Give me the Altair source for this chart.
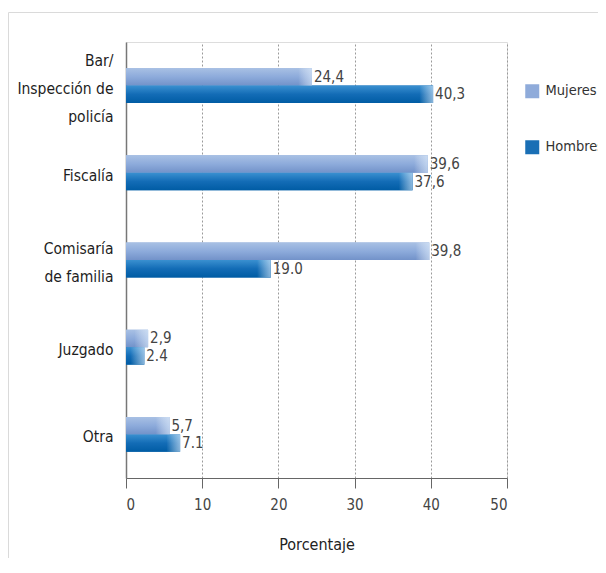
import altair as alt
import pandas as pd

# ---- data ----
categories = ["Bar/\nInspección de\npolicía", "Fiscalía", "Comisaría\nde familia", "Juzgado", "Otra"]
series = ["Mujeres", "Hombres"]
mujeres = [24.4, 39.6, 39.8, 2.9, 5.7]
hombres = [40.3, 37.6, 19.0, 2.4, 7.1]
mujeres_labels = ["24,4", "39,6", "39,8", "2,9", "5,7"]
hombres_labels = ["40,3", "37,6", "19.0", "2.4", "7.1"]
x_ticks = [0, 10, 20, 30, 40, 50]

rows = []
for c, v, l in zip(categories, mujeres, mujeres_labels):
    rows.append({"cat": c, "series": "Mujeres", "value": v, "label": l})
for c, v, l in zip(categories, hombres, hombres_labels):
    rows.append({"cat": c, "series": "Hombres", "value": v, "label": l})
df = pd.DataFrame(rows)

FONT = "DejaVu Sans Condensed, Liberation Sans, sans-serif"

x_enc = alt.X(
    "value:Q",
    scale=alt.Scale(domain=[0, 50], nice=False),
    axis=alt.Axis(
        values=x_ticks, title="Porcentaje", grid=True, gridDash=[2, 2],
        gridColor="#9a9a9a", gridWidth=1, tickSize=10, tickColor="#666",
        domainColor="#666", labelFontSize=15, labelColor="#444", labelFont=FONT,
        labelPadding=9, titleFontSize=16, titleFontWeight=500, titleColor="#222",
        titleFont=FONT, titlePadding=24,
    ),
)
nlines = "length(split(datum.value, '\\n'))"
y_enc = alt.Y(
    "cat:N", sort=categories,
    scale=alt.Scale(domain=categories, paddingInner=0.6, paddingOuter=0.3),
    axis=alt.Axis(
        title=None, labelExpr="split(datum.label, '\\n')", labelFontSize=15.5,
        labelLineHeight=28, labelPadding=13, ticks=False, domainColor="#777",
        domainWidth=1.5, labelColor="#1e1e1e", labelFont=FONT, labelFontWeight=500,
        labelLimit=200, grid=False,
        labelOffset={"condition": [
            {"test": nlines + " == 3", "value": -25},
            {"test": nlines + " == 2", "value": -11},
        ], "value": 3},
    ),
)
yoff = alt.YOffset("series:N", sort=series,
                   scale=alt.Scale(domain=series, paddingInner=0, paddingOuter=0))

base = alt.Chart(df)

frame = alt.Chart(pd.DataFrame({"a": [0]})).mark_rect(
    fillOpacity=0, stroke="#dadada", strokeWidth=1
).encode(x=alt.value(-117.5), x2=alt.value(800), y=alt.value(-29.5), y2=alt.value(900))

solid = base.mark_bar().encode(
    x=x_enc, y=y_enc, yOffset=yoff,
    color=alt.Color(
        "series:N", scale=alt.Scale(domain=series, range=["#8fabda", "#1a6fb5"]),
        legend=alt.Legend(
            title=None, orient="none", legendX=399, legendY=42,
            symbolType="square", symbolSize=196, symbolStrokeWidth=0,
            symbolOpacity=1, labelFontSize=14.5, labelColor="#333", labelFont=FONT,
            labelOffset=6, rowPadding=40,
        ),
    ),
)

grad_m = alt.Gradient(gradient="linear", x1=0, y1=0, x2=0, y2=1, stops=[
    alt.GradientStop(offset=0, color="#a8c0e4"),
    alt.GradientStop(offset=0.5, color="#8dabdb"),
    alt.GradientStop(offset=1, color="#7292c9"),
])
grad_h = alt.Gradient(gradient="linear", x1=0, y1=0, x2=0, y2=1, stops=[
    alt.GradientStop(offset=0, color="#3a90d0"),
    alt.GradientStop(offset=0.5, color="#136cb6"),
    alt.GradientStop(offset=1, color="#005ca4"),
])

bars_m = base.transform_filter(alt.datum.series == "Mujeres").mark_bar(fill=grad_m).encode(
    x="value:Q", y=alt.Y("cat:N", sort=categories), yOffset=alt.YOffset("series:N", sort=series))
bars_h = base.transform_filter(alt.datum.series == "Hombres").mark_bar(fill=grad_h).encode(
    x="value:Q", y=alt.Y("cat:N", sort=categories), yOffset=alt.YOffset("series:N", sort=series))

fade_grad = alt.Gradient(gradient="linear", x1=0, y1=0, x2=1, y2=0, stops=[
    alt.GradientStop(offset=0, color="rgba(255,255,255,0)"),
    alt.GradientStop(offset=1, color="rgba(225,238,252,0.6)"),
])
fade = base.transform_calculate(start="max(datum.value - 1.8, 0)").mark_bar(fill=fade_grad).encode(
    x="start:Q", x2="value:Q", y=alt.Y("cat:N", sort=categories),
    yOffset=alt.YOffset("series:N", sort=series))

labels = base.mark_text(
    align="left", baseline="middle", dx=2, fontSize=15, color="#444", font=FONT
).encode(x="value:Q", y=alt.Y("cat:N", sort=categories),
         yOffset=alt.YOffset("series:N", sort=series), text="label:N")

chart = alt.layer(frame, solid, bars_m, bars_h, fade, labels).properties(
    width=381, height=436,
    autosize=alt.AutoSizeParams(type="none"),
    padding={"left": 118, "top": 34, "right": 91, "bottom": 80},
).configure_view(stroke=None).configure(background="white")

chart.save("out.html", embed_options={"renderer": "svg", "actions": False})
